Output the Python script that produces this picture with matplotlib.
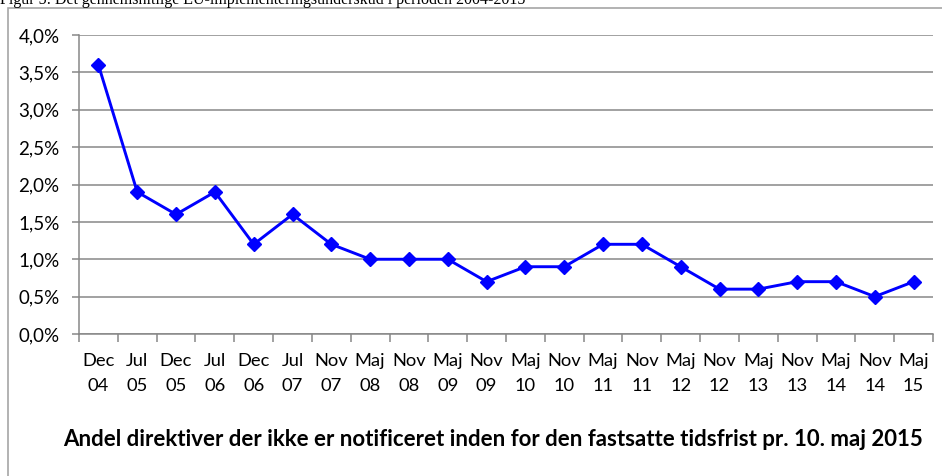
import matplotlib.pyplot as plt
import matplotlib.patches as mpatches
import numpy as np

# data
perioder = ['Dec\n04', 'Jul\n05', 'Dec\n05', 'Jul\n06', 'Dec\n06', 'Jul\n07', 'Nov\n07', 'Maj\n08',
            'Nov\n08', 'Maj\n09', 'Nov\n09', 'Maj\n10', 'Nov\n10', 'Maj\n11', 'Nov\n11', 'Maj\n12',
            'Nov\n12', 'Maj\n13', 'Nov\n13', 'Maj\n14', 'Nov\n14', 'Maj\n15']
underskud = [3.6, 1.9, 1.6, 1.9, 1.2, 1.6, 1.2, 1.0, 1.0, 1.0, 0.7, 0.9, 0.9, 1.2, 1.2, 0.9,
             0.6, 0.6, 0.7, 0.7, 0.5, 0.7]
y_ticks = [0.0, 0.5, 1.0, 1.5, 2.0, 2.5, 3.0, 3.5, 4.0]

W, H = 942, 476
fig = plt.figure(figsize=(W / 100, H / 100), dpi=100)

# chart frame (cut off on the right and at the bottom)
frame = mpatches.Rectangle((8 / W, -0.1), 1.2, 1.1 - 7.5 / H, transform=fig.transFigure,
                           fill=False, edgecolor='#a6a6a6', linewidth=1.2)
fig.patches.append(frame)

# caption line, cut off at the top like in the source
fig.text(0 / W, 1 - 4.5 / H, 'Figur 5: Det gennemsnitlige EU-implementeringsunderskud i perioden 2004-2015',
         family='Liberation Serif', fontsize=11.5, ha='left', va='baseline')

ax = fig.add_axes([79 / W, (H - 334) / H, (933 - 79) / W, (334 - 35) / H])

x = np.arange(len(perioder))
ax.plot(x, underskud, color='#0000ff', linewidth=2.1, marker='D', markersize=7,
        markerfacecolor='#0000ff', markeredgecolor='#0000ff', markeredgewidth=1, zorder=3)

ax.set_xlim(-0.5, len(perioder) - 0.5)
ax.set_ylim(0, 4.0)
ax.set_yticks(y_ticks)
ax.set_yticklabels([('%.1f%%' % v).replace('.', ',') for v in y_ticks],
                   family='Lato', fontsize=13.5)
ax.yaxis.grid(True, color='#878787', linewidth=1.1)
ax.set_axisbelow(True)

ax.set_xticks(x)
ax.set_xticklabels(perioder, family='Lato', fontsize=13.2, linespacing=1.65)
ax.set_xticks(np.arange(len(perioder) + 1) - 0.5, minor=True)
ax.tick_params(axis='x', which='major', length=0, pad=14)
ax.tick_params(axis='x', which='minor', length=5.5, color='#878787', width=1.1)
ax.tick_params(axis='y', length=5, color='#878787', width=1.1, pad=9)

for s in ['top', 'right']:
    ax.spines[s].set_visible(False)
for s in ['left', 'bottom']:
    ax.spines[s].set_color('#878787')
    ax.spines[s].set_linewidth(1.1)

fig.text(493 / W, 1 - 440 / H,
         'Andel direktiver der ikke er notificeret inden for den fastsatte tidsfrist pr. 10. maj 2015',
         family='Lato', fontweight='bold', fontsize=16, ha='center', va='center')

fig.savefig('out.png', dpi=100)
